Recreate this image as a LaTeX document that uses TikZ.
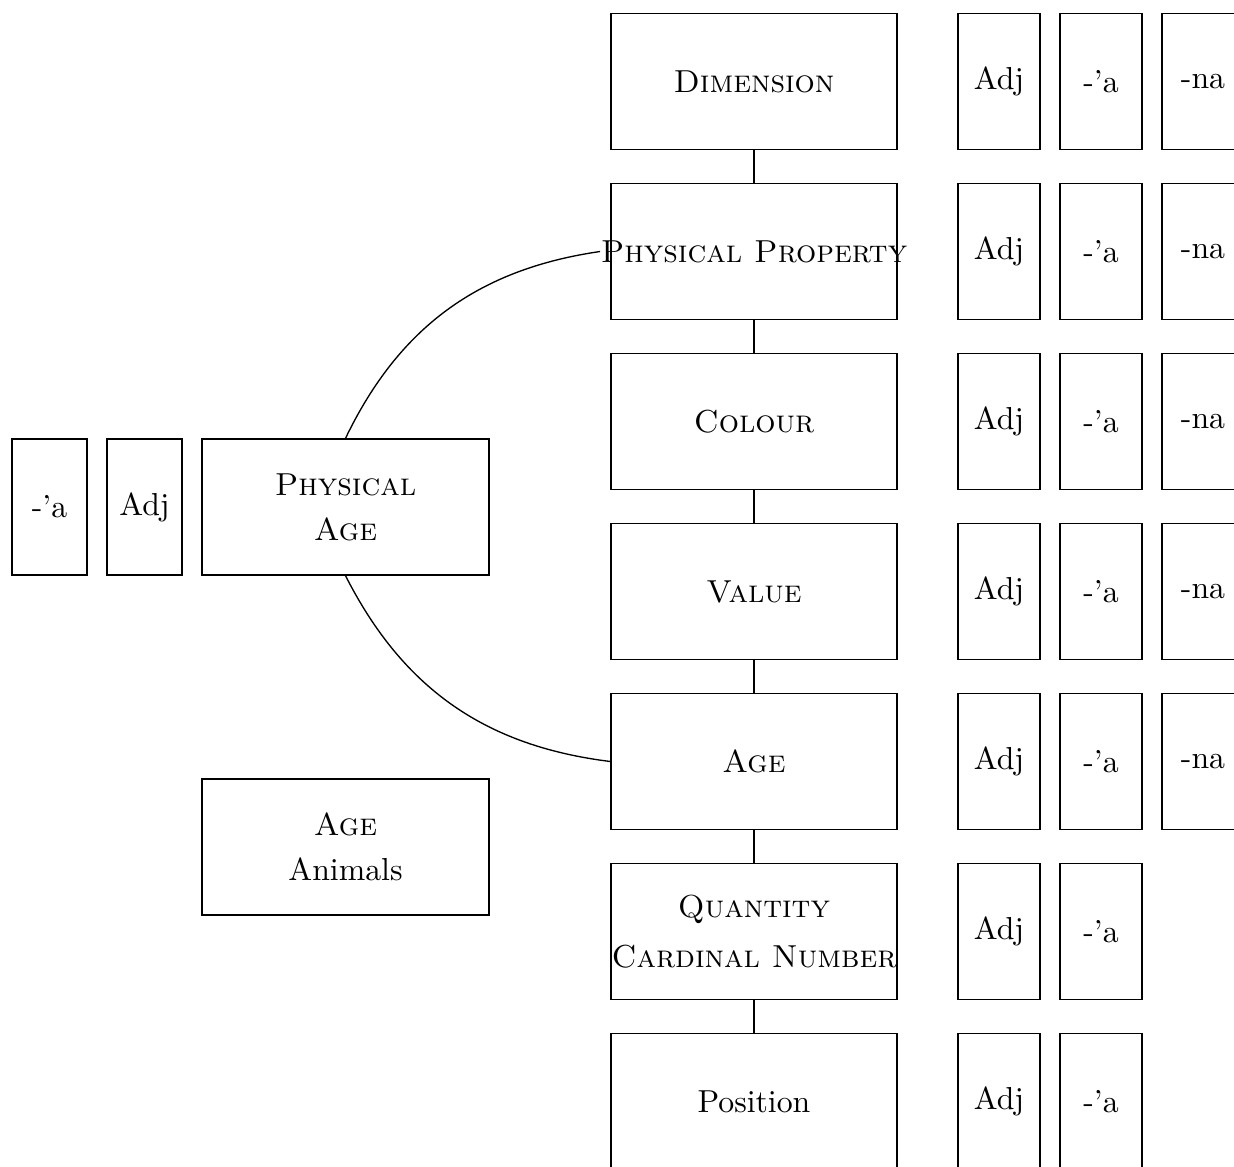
\documentclass[tikz,border=0pt]{standalone}
\usepackage{tikz}
\def\px{0.010493cm}
\tikzset{
  every node/.style={font=\fontsize{9.5pt}{11.4pt}\selectfont},
  mainbox/.style={draw, rectangle, inner sep=0pt, minimum width=286*\px, minimum height=136*\px},
  smallbox/.style={draw, rectangle, inner sep=0pt, minimum width=82*\px, minimum height=136*\px},
  leftsmall/.style={draw, rectangle, inner sep=0pt, minimum width=75*\px, minimum height=136*\px},
  lbl/.style={inner sep=0pt, align=center},
  conn/.style={draw, line width=0.4pt}
}
\begin{document}
\begin{tikzpicture}[x=\px, y=-\px]
\useasboundingbox (0,0) rectangle (1234,1167);
% main column boxes
\node[mainbox] (dim) at (754,81.5) {};
\node[mainbox] (pp)  at (754,251.5) {};
\node[mainbox] (col) at (754,421.5) {};
\node[mainbox] (val) at (754,591.5) {};
\node[mainbox] (age) at (754,761.5) {};
\node[mainbox] (qty) at (754,931.5) {};
\node[mainbox] (pos) at (754,1101.5) {};
% main labels
\node[lbl] (dimt) at (dim.center) {\textsc{Dimension}};
\node[lbl] (ppt)  at (pp.center)  {\textsc{Physical Property}};
\node[lbl] (colt) at (col.center) {\textsc{Colour}};
\node[lbl] (valt) at (val.center) {\textsc{Value}};
\node[lbl] (aget) at (age.center) {\textsc{Age}};
\node[lbl] (qtyt) at (qty.center) {\textsc{Quantity}\\[3.5pt]\textsc{Cardinal Number}};
\node[lbl] (post) at (pos.center) {Position};
% vertical connectors
\draw[conn] (dim.south) -- (pp.north);
\draw[conn] (pp.south) -- (col.north);
\draw[conn] (col.south) -- (val.north);
\draw[conn] (val.south) -- (age.north);
\draw[conn] (age.south) -- (qty.north);
\draw[conn] (qty.south) -- (pos.north);
% right small boxes
\foreach \n/\y in {1/81.5,2/251.5,3/421.5,4/591.5,5/761.5,6/931.5,7/1101.5}{
  \node[smallbox] (adj\n) at (999,\y) {Adj};
  \node[smallbox] (apo\n) at (1101,\y) {-'a};
}
\foreach \n/\y in {1/81.5,2/251.5,3/421.5,4/591.5,5/761.5}{
  \node[smallbox] (na\n) at (1203,\y) {-na};
}
% left group
\node[leftsmall] (lapo) at (49.5,507) {-'a};
\node[leftsmall] (ladj) at (144.5,507) {Adj};
\node[mainbox, minimum width=287*\px] (pa) at (345.5,507) {};
\node[lbl] (pat) at (pa.center) {\textsc{Physical}\\[2pt]\textsc{Age}};
\node[mainbox, minimum width=287*\px] (aa) at (345.5,847) {};
\node[lbl] (aat) at (aa.center) {\textsc{Age}\\[2pt]Animals};
% curves
\draw[conn] (pa.north) to[bend left=28] (ppt.west);
\draw[conn] (pa.south) to[bend right=28] (age.west);
\end{tikzpicture}
\end{document}
